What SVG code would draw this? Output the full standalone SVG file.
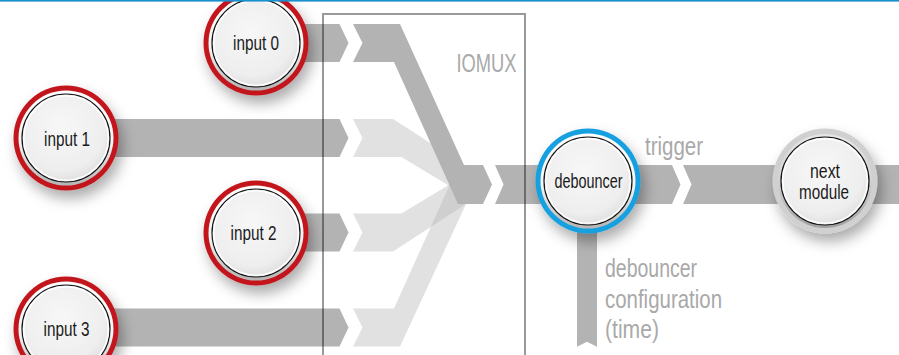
<svg xmlns="http://www.w3.org/2000/svg" width="899" height="355" viewBox="0 0 899 355">
  <style>
    .band { fill: #b3b3b3; }
    .band-light { fill: #b3b3b3; fill-opacity: 0.4; }
    .label { font-family: "Liberation Sans Narrow", "Liberation Sans", Arial, sans-serif; font-size: 19.5px; fill: #1a1a1a; text-anchor: middle; }
    .note { font-family: "Liberation Sans Narrow", "Liberation Sans", Arial, sans-serif; font-size: 25.5px; fill: #a9a9a9; }
    .ring-red { fill: #c2161f; }
    .ring-blue { fill: #17a0e0; }
    .ring-grey { fill: #d0d0d0; }
    .gap { fill: url(#gapGrad); }
    .gap-grey { fill: url(#gapGreyGrad); }
    .face { fill: url(#faceGrad); stroke: #151515; stroke-width: 1.2; }
    .gloss { fill: none; stroke: #ffffff; stroke-width: 1.6; stroke-opacity: 0.9; }
  </style>
  <defs>
    <filter id="shadow" x="-50%" y="-50%" width="200%" height="200%">
      <feDropShadow dx="4" dy="8" stdDeviation="7" flood-color="#000" flood-opacity="0.33"/>
    </filter>
    <linearGradient id="gapGrad" x1="0" y1="0" x2="0" y2="1">
      <stop offset="0" stop-color="#ffffff"/>
      <stop offset="0.55" stop-color="#f4f4f4"/>
      <stop offset="1" stop-color="#b5b5b5"/>
    </linearGradient>
    <linearGradient id="gapGreyGrad" x1="0" y1="0" x2="0" y2="1">
      <stop offset="0" stop-color="#e6e6e6"/>
      <stop offset="0.5" stop-color="#d2d2d2"/>
      <stop offset="1" stop-color="#a0a0a0"/>
    </linearGradient>
    <radialGradient id="faceGrad" cx="0.45" cy="0.38" r="0.65">
      <stop offset="0" stop-color="#f7f7f7"/>
      <stop offset="0.75" stop-color="#eeeeee"/>
      <stop offset="1" stop-color="#dddddd"/>
    </radialGradient>
  </defs>

  <rect width="899" height="355" fill="#ffffff"/>

  <!-- signal paths -->
  <g id="connectors">
    <!-- first stage: from each input into the mux -->
    <polygon class="band" points="256,24 339.5,24 348.5,43 339.5,62 256,62"/>
    <polygon class="band" points="66,119 339.5,119 348.5,138 339.5,157 66,157"/>
    <polygon class="band" points="256,213.5 339.5,213.5 348.5,232.5 339.5,251.5 256,251.5"/>
    <polygon class="band" points="66,308.5 339.5,308.5 348.5,327.5 339.5,346.5 66,346.5"/>

    <!-- unselected routes (faded) -->
    <polygon class="band-light" points="353,119 393,119 466,166 466,196 401.5,157 353,157 362.5,138"/>
    <polygon class="band-light" points="353,251.5 393,251.5 466,204 466,174.5 401.5,213.5 353,213.5 362.5,232.5"/>
    <polygon class="band-light" points="353,308.5 394,308.5 458,166.5 470,166.5 470,204 466,204 400,346.5 353,346.5 362.5,327.5"/>

    <!-- selected route: input 0 through the mux -->
    <polygon class="band" points="353,24 400,24 464,165 483,165 492,184.5 483,204 458,204 394,62 353,62 362.5,43"/>

    <!-- mux to debouncer -->
    <polygon class="band" points="495,165 672,165 680.5,184.5 672,204 495,204 503.5,184.5"/>
    <!-- trigger to next module -->
    <polygon class="band" points="683,165 899,165 899,204 683,204 691.5,184.5"/>
    <!-- configuration input -->
    <polygon class="band" points="577,195 597,195 597,346.7 587,341.7 577,346.7"/>
  </g>

  <!-- IOMUX frame -->
  <g id="iomux">
    <rect x="323" y="14" width="202" height="350" fill="none" stroke="#000" stroke-opacity="0.4" stroke-width="2"/>
    <text class="note" x="456.5" y="71.5" font-size="26.5" textLength="60" lengthAdjust="spacingAndGlyphs">IOMUX</text>
  </g>

  <!-- inputs -->
  <g id="input0" transform="translate(256,43)">
    <circle r="52.5" class="ring-red" filter="url(#shadow)"/>
    <circle r="47.5" class="gap"/>
    <circle r="44" class="face"/>
    <circle r="42.3" class="gloss"/>
    <text class="label" x="0" y="7" textLength="46" lengthAdjust="spacingAndGlyphs">input 0</text>
  </g>
  <g id="input1" transform="translate(66,138)">
    <circle r="52.5" class="ring-red" filter="url(#shadow)"/>
    <circle r="47.5" class="gap"/>
    <circle r="44" class="face"/>
    <circle r="42.3" class="gloss"/>
    <text class="label" x="1" y="7.5" textLength="46" lengthAdjust="spacingAndGlyphs">input 1</text>
  </g>
  <g id="input2" transform="translate(256,233)">
    <circle r="52.5" class="ring-red" filter="url(#shadow)"/>
    <circle r="47.5" class="gap"/>
    <circle r="44" class="face"/>
    <circle r="42.3" class="gloss"/>
    <text class="label" x="-2.5" y="7" textLength="46" lengthAdjust="spacingAndGlyphs">input 2</text>
  </g>
  <g id="input3" transform="translate(66,329)">
    <circle r="52.5" class="ring-red" filter="url(#shadow)"/>
    <circle r="47.5" class="gap"/>
    <circle r="44" class="face"/>
    <circle r="42.3" class="gloss"/>
    <text class="label" x="0.5" y="6.5" textLength="46" lengthAdjust="spacingAndGlyphs">input 3</text>
  </g>

  <!-- debouncer -->
  <g id="debouncer" transform="translate(588,181)">
    <circle r="52.5" class="ring-blue" filter="url(#shadow)"/>
    <circle r="47.5" class="gap"/>
    <circle r="44" class="face"/>
    <circle r="42.3" class="gloss"/>
    <text class="label" x="0.5" y="6.5" textLength="68" lengthAdjust="spacingAndGlyphs">debouncer</text>
  </g>

  <!-- next module -->
  <g id="next-module" transform="translate(825,181)">
    <circle r="52.5" class="ring-grey" filter="url(#shadow)"/>
    <circle r="47" class="gap-grey"/>
    <circle r="44" class="face"/>
    <circle r="42.3" class="gloss"/>
    <text class="label" x="0" y="-3.5" textLength="30" lengthAdjust="spacingAndGlyphs">next</text>
    <text class="label" x="-1" y="17.5" textLength="50" lengthAdjust="spacingAndGlyphs">module</text>
  </g>

  <!-- path labels -->
  <g id="labels">
    <text class="note" x="645" y="155" textLength="58" lengthAdjust="spacingAndGlyphs">trigger</text>
    <text class="note" x="605" y="277" textLength="92" lengthAdjust="spacingAndGlyphs">debouncer</text>
    <text class="note" x="605" y="307.5" textLength="117" lengthAdjust="spacingAndGlyphs">configuration</text>
    <text class="note" x="605" y="338" textLength="54" lengthAdjust="spacingAndGlyphs">(time)</text>
  </g>

  <!-- top rule -->
  <rect x="0" y="0" width="899" height="1.6" fill="#1a8fd0"/>
</svg>
